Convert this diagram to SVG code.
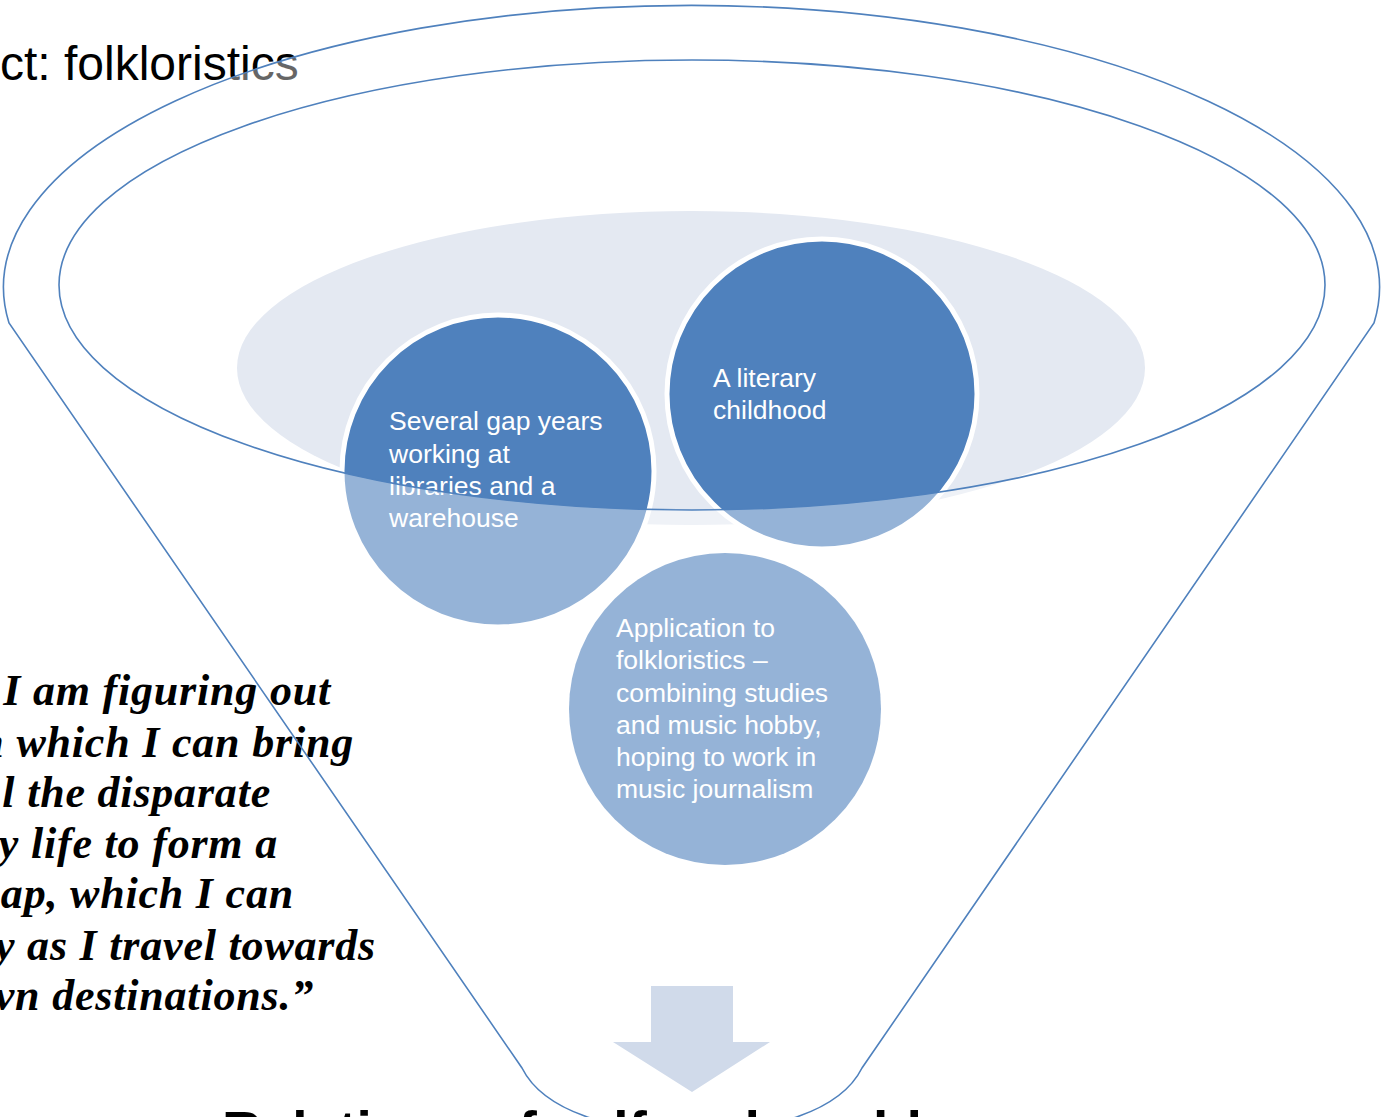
<svg xmlns="http://www.w3.org/2000/svg" width="1383" height="1117" viewBox="0 0 1383 1117">
<style>
.ctext{font-family:"Liberation Sans",Arial,sans-serif;font-size:26.5px;fill:#ffffff}
.quote{font-family:"Liberation Serif","Times New Roman",serif;font-size:44px;font-style:italic;font-weight:bold;letter-spacing:0.8px;fill:#000000}
.outline{fill:none;stroke:#4F81BD;stroke-width:1.6}
.dark{fill:#4F81BD;stroke:#ffffff;stroke-width:5}
</style>
<rect x="0" y="0" width="1383" height="1117" fill="#ffffff"/>
<g id="title">
<text x="0" y="80" font-family="'Liberation Sans',Arial,sans-serif" font-size="48" fill="#000">ct: folkloristics</text>
</g>
<g id="backdrop">
<ellipse cx="691" cy="368" rx="454" ry="157" fill="#E4E9F2"/>
</g>
<g id="node-gap-years">
<circle class="dark" cx="498" cy="471" r="156"/>
</g>
<g id="node-literary-childhood">
<circle class="dark" cx="822" cy="394" r="155"/>
</g>
<g id="node-application">
<circle cx="725" cy="709" r="156" fill="#4F81BD"/>
</g>
<g id="overlay">
<path d="M 9 323 A 688 282 0 1 1 1374 323 L 862 1068 C 840 1112 770 1132 692 1132 C 614 1132 544 1112 522 1068 Z M 59 285 A 633 225 0 1 0 1325 285 A 633 225 0 1 0 59 285 Z" fill="#ffffff" fill-opacity="0.4" fill-rule="evenodd"/>
</g>
<g id="labels">
<text class="ctext" x="389" y="430">Several gap years</text>
<text class="ctext" x="389" y="463">working at</text>
<text class="ctext" x="389" y="495">libraries and a</text>
<text class="ctext" x="389" y="527">warehouse</text>
<text class="ctext" x="713" y="387">A literary</text>
<text class="ctext" x="713" y="419">childhood</text>
<text class="ctext" x="616" y="637">Application to</text>
<text class="ctext" x="616" y="669">folkloristics –</text>
<text class="ctext" x="616" y="702">combining studies</text>
<text class="ctext" x="616" y="734">and music hobby,</text>
<text class="ctext" x="616" y="766">hoping to work in</text>
<text class="ctext" x="616" y="798">music journalism</text>
</g>
<g id="arrow">
<polygon points="651,986 733,986 733,1042 770,1042 692,1092 613,1042 651,1042" fill="#D0DAEA"/>
</g>
<g id="quote">
<text class="quote" text-anchor="end" x="331" y="705">I am figuring out</text>
<text class="quote" text-anchor="end" x="354" y="757">n which I can bring</text>
<text class="quote" text-anchor="end" x="271" y="807">l the disparate</text>
<text class="quote" text-anchor="end" x="278" y="858">y life to form a</text>
<text class="quote" text-anchor="end" x="294" y="908">ap, which I can</text>
<text class="quote" text-anchor="end" x="376" y="960">y as I travel towards</text>
<text class="quote" text-anchor="end" x="314" y="1010">vn destinations.”</text>
</g>
<g id="bottom-title">
<text x="222" y="1150" font-family="'Liberation Sans',Arial,sans-serif" font-size="55" font-weight="bold" fill="#000">Relations of self and world</text>
</g>
<g id="connectors">
<path class="outline" d="M 9 323 A 688 282 0 1 1 1374 323 L 862 1068 C 840 1112 770 1132 692 1132 C 614 1132 544 1112 522 1068 Z"/>
<ellipse class="outline" cx="692" cy="285" rx="633" ry="225"/>
</g>
</svg>
